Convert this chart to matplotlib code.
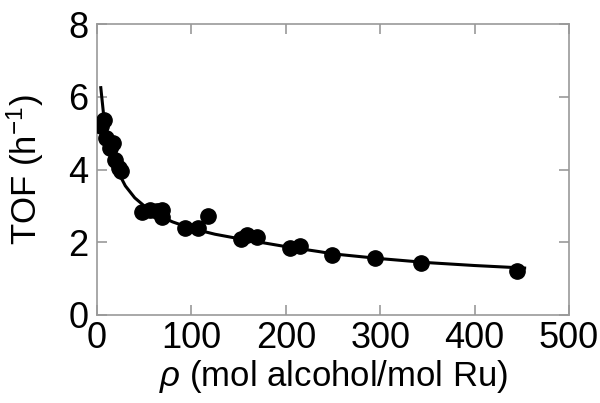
import matplotlib
matplotlib.use("Agg")
import matplotlib.pyplot as plt

plt.rcParams['font.family'] = ['Liberation Sans', 'DejaVu Sans']
plt.rcParams['mathtext.fontset'] = 'custom'
plt.rcParams['mathtext.rm'] = 'Liberation Sans'
plt.rcParams['mathtext.it'] = 'Liberation Sans:italic'

# measured points
rho = [4, 7, 10, 14, 17, 19, 23, 25, 48, 56, 64, 69, 69, 93, 107, 118,
       153, 159, 170, 204, 215, 249, 294, 343, 445]
tof = [5.2, 5.35, 4.87, 4.6, 4.72, 4.25, 4.03, 3.95, 2.82, 2.88, 2.85, 2.88, 2.7,
       2.38, 2.38, 2.71, 2.1, 2.2, 2.15, 1.85, 1.9, 1.65, 1.57, 1.42, 1.2]

# fitted curve
curve_x = [4, 7, 10, 15, 20, 30, 40, 50, 60, 70, 80, 100, 125, 150, 200, 236,
           250, 300, 350, 400, 453]
curve_y = [6.25, 5.5, 5.0, 4.45, 4.05, 3.55, 3.22, 3.0, 2.82, 2.68, 2.56, 2.38,
           2.22, 2.1, 1.88, 1.74, 1.68, 1.55, 1.44, 1.36, 1.29]

xticks = [0, 100, 200, 300, 400, 500]
yticks = [0, 2, 4, 6, 8]

fig = plt.figure(figsize=(6, 4.03), dpi=100)
ax = fig.add_axes([0.1617, 0.2184, 0.7866, 0.722])

ax.plot(curve_x, curve_y, color='black', lw=2.2, zorder=2)
ax.plot(rho, tof, 'o', color='black', ms=11, zorder=3)

ax.set_xlim(0, 500)
ax.set_ylim(0, 8)
ax.set_xticks(xticks)
ax.set_yticks(yticks)
for s in ax.spines.values():
    s.set_color('#999999')
    s.set_linewidth(1.2)
ax.tick_params(direction='in', length=7, width=1.2, color='#999999',
               top=True, right=True, labelsize=26, pad=6)
ax.tick_params(axis='x', pad=4)
ax.set_xlabel(r'$\it{\rho}$ (mol alcohol/mol Ru)', fontsize=25, labelpad=2)
ax.set_ylabel(r'TOF (h$^{\mathregular{-1}}$)', fontsize=25, labelpad=16)

fig.savefig('out.png', dpi=100)
